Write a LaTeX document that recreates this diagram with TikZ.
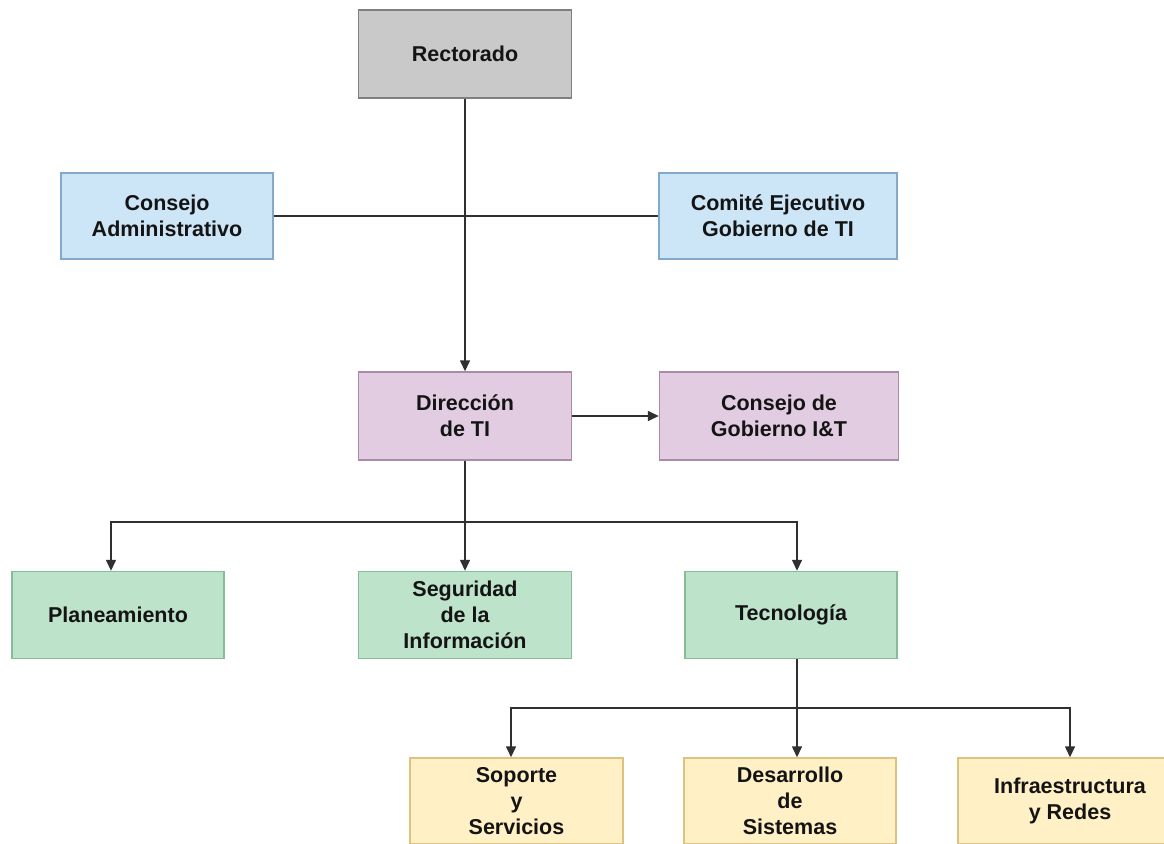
\documentclass[tikz,border=0pt]{standalone}
\usepackage{fontspec}
\setmainfont{Liberation Sans}
\usetikzlibrary{arrows.meta}
\definecolor{grayF}{HTML}{C9C9C9}\definecolor{grayD}{HTML}{808080}
\definecolor{blueF}{HTML}{CDE6F7}\definecolor{blueD}{HTML}{82A8CA}
\definecolor{purpF}{HTML}{E2CCE2}\definecolor{purpD}{HTML}{A98AA9}
\definecolor{greenF}{HTML}{BEE3CB}\definecolor{greenD}{HTML}{86BC96}
\definecolor{yellF}{HTML}{FFF0C6}\definecolor{yellD}{HTML}{DDC280}
\definecolor{lineC}{HTML}{303030}
\tikzset{
  box/.style={draw, line width=1.4pt, rectangle, align=center, inner sep=0pt,
    font=\fontsize{21.5}{26}\selectfont\bfseries, text=black!92},
  graybox/.style={box, fill=grayF, draw=grayD},
  bluebox/.style={box, fill=blueF, draw=blueD},
  purpbox/.style={box, fill=purpF, draw=purpD},
  greenbox/.style={box, fill=greenF, draw=greenD},
  yellbox/.style={box, fill=yellF, draw=yellD},
  conn/.style={draw=lineC, line width=1.4pt},
  arr/.style={conn, -{Triangle[length=11pt,width=10pt]}},
}
\begin{document}
\begin{tikzpicture}[x=1pt,y=-1pt]
\clip (0,0) rectangle (1164,843);
\fill[white] (0,0) rectangle (1164,843);
\node[graybox, minimum width=213pt, minimum height=88pt] (rect) at (465,54) {Rectorado};
\node[bluebox, minimum width=212pt, minimum height=86pt] (ca) at (167,216) {Consejo\\Administrativo};
\node[bluebox, minimum width=238pt, minimum height=86pt] (ce) at (778,216) {Comité Ejecutivo\\Gobierno de TI};
\node[purpbox, minimum width=213pt, minimum height=88pt] (dti) at (465,416) {Dirección\\de TI};
\node[purpbox, minimum width=239pt, minimum height=88pt] (cg) at (779,416) {Consejo de\\Gobierno I\&T};
\node[greenbox, minimum width=212pt, minimum height=87pt] (plan) at (118,615) {Planeamiento};
\node[greenbox, minimum width=213pt, minimum height=87pt] (seg) at (465,615) {Seguridad\\de la\\Información};
\node[greenbox, minimum width=212pt, minimum height=87pt] (tec) at (791,615) {Tecnología};
\node[yellbox, minimum width=213pt, minimum height=86pt] (sop) at (516.5,801) {Soporte\\y\\Servicios};
\node[yellbox, minimum width=212pt, minimum height=86pt] (des) at (790,801) {Desarrollo\\de\\Sistemas};
\node[yellbox, minimum width=224pt, minimum height=86pt] (inf) at (1070,801) {Infraestructura\\y Redes};
\coordinate (j1) at (465,522);
\coordinate (j2) at (797,708);
\draw[conn] (ca) -- (ce);
\draw[arr] (rect.south) -- (dti.north);
\draw[arr] (dti) -- (cg);
\draw[conn] (dti.south) -- (j1);
\draw[arr] (j1) -| ([xshift=-7pt]plan.north);
\draw[arr] (j1) -- (seg.north);
\draw[arr] (j1) -| ([xshift=6pt]tec.north);
\draw[conn] ([xshift=6pt]tec.south) -- (j2);
\draw[arr] (j2) -| ([xshift=-5.5pt]sop.north);
\draw[arr] (j2) -| ([xshift=7pt]des.north);
\draw[arr] (j2) -| (inf.north);
\end{tikzpicture}
\end{document}
